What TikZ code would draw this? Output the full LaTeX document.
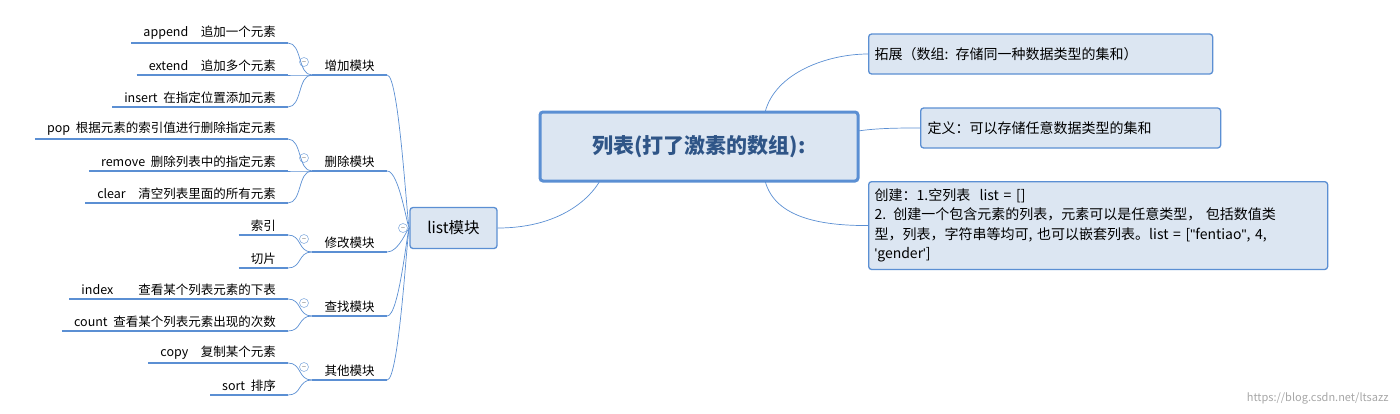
\documentclass[tikz,border=0pt]{standalone}
\usepackage{fontspec}
\setmainfont{Noto Sans CJK SC}
\newfontfamily\quotefont[Ligatures=NoCommon]{Liberation Sans}
\usetikzlibrary{positioning}
\definecolor{lineblue}{HTML}{5B8FD3}
\definecolor{boxfill}{HTML}{DCE6F2}
\definecolor{titleblue}{HTML}{2F5587}
\begin{document}
\begin{tikzpicture}[x=1pt,y=-1pt,font=\fontsize{12.5}{14}\selectfont]

\tikzstyle{leaf}=[anchor=south east,inner xsep=12pt,inner ysep=3pt]
\tikzstyle{cat}=[anchor=south,minimum width=75pt,inner ysep=3pt]
\tikzstyle{uline}=[lineblue,line width=2.2pt]
\tikzstyle{branch}=[lineblue,line width=0.7pt]
\tikzstyle{fold}=[draw=lineblue!70,line width=0.6pt,circle,inner sep=0pt,minimum size=9pt]
\tikzstyle{box}=[draw=lineblue,line width=1.3pt,fill=boxfill,rounded corners=3pt]

\useasboundingbox (0,0) rectangle (1400,413);

% categories
\foreach \n/\y/\t in {c1/75/增加模块,c2/171/删除模块,c3/252/修改模块,c4/316/查找模块,c5/380/其他模块}{
    \node[cat] (\n) at (349.5,\y) {\t};
    \draw[uline] (\n.south west) -- (\n.south east);
    \node[fold] at (304,\y-13) {\tiny$-$};
}

% leaves
\foreach \n/\y/\t/\c in {a1/43/{append\quad 追加一个元素}/c1, a2/75/{extend\quad 追加多个元素}/c1,
    a3/107/{insert\ \ 在指定位置添加元素}/c1, b1/139/{pop\ \ 根据元素的索引值进行删除指定元素}/c2,
    b2/171/{remove\ \ 删除列表中的指定元素}/c2, b3/203/{clear\quad 清空列表里面的所有元素}/c2,
    d1/235/索引/c3, d2/268/切片/c3, e1/299/{index\qquad 查看某个列表元素的下表}/c4,
    e2/331/{count\ \ 查看某个列表元素出现的次数}/c4, f1/363/{copy\quad 复制某个元素}/c5, f2/395/{sort\ \ 排序}/c5}{
    \node[leaf] (\n) at (288,\y) {\t};
    \draw[uline] (\n.south west) -- (\n.south east);
    \draw[branch] (\n.south east) .. controls +(14,0) and +(-14,0) .. (\c.south west);
}

% list node
\node[box,minimum width=87pt,minimum height=41pt,font=\fontsize{15.5}{18}\selectfont] (L) at (453.5,228) {list模块};
\node[fold] at (403,228) {\tiny$-$};
\foreach \n in {c1,c2,c3,c4,c5}
    \draw[branch] (\n.south east) .. controls +(12,0) and +(-2,0) .. (L.west);

% center node
\node[box,line width=3pt,minimum width=318pt,minimum height=69pt,font=\fontsize{21}{24}\selectfont\bfseries,text=titleblue] (M) at (699,146.5) {列表(打了激素的数组):};
\draw[branch] (L.east) .. controls +(70,0) and +(-5,10) .. (600,180.5);

% right nodes
\node[box,minimum height=40pt,anchor=west,text width=332pt,inner xsep=6pt,font=\fontsize{14}{16}\selectfont] (R1) at (868,54) {拓展（数组: 存储同一种数据类型的集和）};
\node[box,minimum height=40pt,anchor=west,text width=286pt,inner xsep=7pt,font=\fontsize{14}{16}\selectfont] (R2) at (920,128) {定义：可以存储任意数据类型的集和};
\node[box,anchor=north west,text width=447pt,inner xsep=6pt,inner ysep=7pt,align=left,font=\fontsize{14}{19.5}\selectfont] (R3) at (868,181) {创建：1.空列表\ \ list = []\\2. 创建一个包含元素的列表，元素可以是任意类型， 包括数值类\\型，列表，字符串等均可, 也可以嵌套列表。list = [{\quotefont"}fentiao{\quotefont"}, 4,\\{\quotefont'}gender{\quotefont'}]\\[-4pt]};

\coordinate (Mt) at (765,112.5);
\coordinate (Mb) at (765,180.5);
\draw[branch] (Mt) .. controls +(10,-40) and +(-40,0) .. (R1.west);
\draw[branch] (858,131) .. controls +(20,-3) and +(-20,0) .. (R2.west);
\draw[branch] (Mb) .. controls +(10,40) and +(-40,0) .. (R3.west);

% watermark
\node[anchor=south east,text=black!35,font=\fontsize{11}{12}\selectfont] (W) at (1392,408) {https://blog.csdn.net/ltsazz};
\end{tikzpicture}
\end{document}
